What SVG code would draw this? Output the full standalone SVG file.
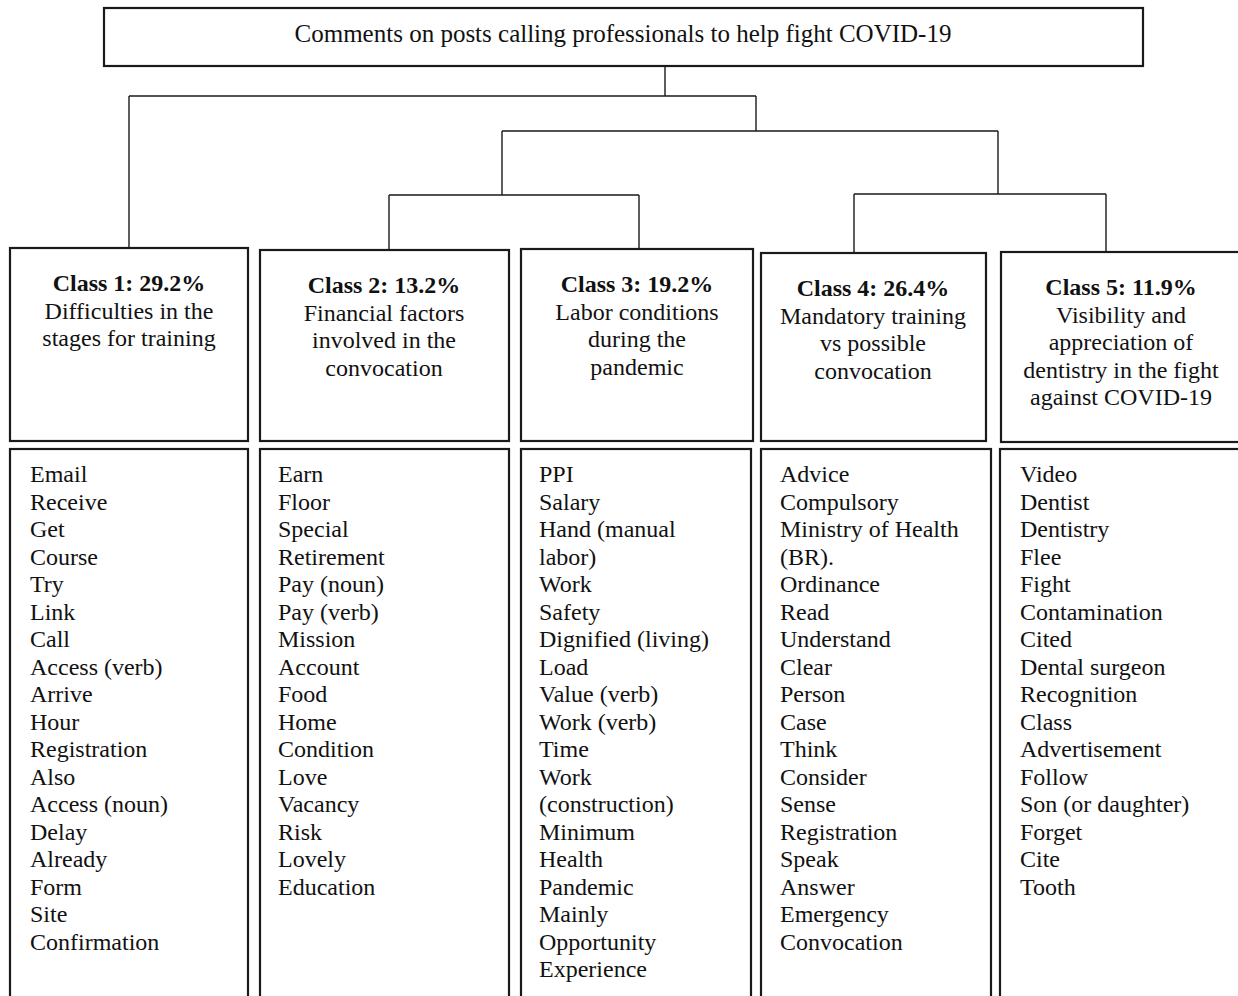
<svg xmlns="http://www.w3.org/2000/svg" width="1238" height="996" viewBox="0 0 1238 996">
<style>
.box{fill:#fff;stroke:#1a1a1a;stroke-width:2.2}
.ln{fill:none;stroke:#1a1a1a;stroke-width:1.4}
text{font-family:"Liberation Serif","Times New Roman",serif;font-size:24px;fill:#111}
.t{font-size:25px}
.c{text-anchor:middle}
.b{font-weight:bold}
</style>
<rect width="1238" height="996" fill="#fff"/>
<g id="connectors">
<path class="ln" d="M665 66V96M129 96H756M129 96V248M756 96V131M502 131H998M502 131V195M389 195H639M389 195V249M639 195V249M998 131V194M854 194H1106M854 194V253M1106 194V252"/>
</g>
<g id="root">
<rect class="box" x="104" y="8" width="1039" height="58"/>
<text class="t c" x="623" y="42">Comments on posts calling professionals to help fight COVID-19</text>
</g>
<g id="class1">
<rect class="box" x="10" y="248" width="238" height="193"/>
<text class="c" x="129" y="291"><tspan class="b">Class 1: 29.2%</tspan><tspan x="129" dy="27.5">Difficulties in the</tspan><tspan x="129" dy="27.5">stages for training</tspan></text>
</g>
<g id="class2">
<rect class="box" x="260" y="250" width="249" height="191"/>
<text class="c" x="384" y="293"><tspan class="b">Class 2: 13.2%</tspan><tspan x="384" dy="27.5">Financial factors</tspan><tspan x="384" dy="27.5">involved in the</tspan><tspan x="384" dy="27.5">convocation</tspan></text>
</g>
<g id="class3">
<rect class="box" x="521" y="249" width="232" height="192"/>
<text class="c" x="637" y="292"><tspan class="b">Class 3: 19.2%</tspan><tspan x="637" dy="27.5">Labor conditions</tspan><tspan x="637" dy="27.5">during the</tspan><tspan x="637" dy="27.5">pandemic</tspan></text>
</g>
<g id="class4">
<rect class="box" x="761" y="253" width="225" height="188"/>
<text class="c" x="873" y="296"><tspan class="b">Class 4: 26.4%</tspan><tspan x="873" dy="27.5">Mandatory training</tspan><tspan x="873" dy="27.5">vs possible</tspan><tspan x="873" dy="27.5">convocation</tspan></text>
</g>
<g id="class5">
<rect class="box" x="1001" y="252" width="250" height="190"/>
<text class="c" x="1121" y="295"><tspan class="b">Class 5: 11.9%</tspan><tspan x="1121" dy="27.5">Visibility and</tspan><tspan x="1121" dy="27.5">appreciation of</tspan><tspan x="1121" dy="27.5">dentistry in the fight</tspan><tspan x="1121" dy="27.5">against COVID-19</tspan></text>
</g>
<g id="words1">
<rect class="box" x="10" y="449" width="238" height="560"/>
<text x="30" y="482"><tspan x="30">Email</tspan><tspan x="30" dy="27.5">Receive</tspan><tspan x="30" dy="27.5">Get</tspan><tspan x="30" dy="27.5">Course</tspan><tspan x="30" dy="27.5">Try</tspan><tspan x="30" dy="27.5">Link</tspan><tspan x="30" dy="27.5">Call</tspan><tspan x="30" dy="27.5">Access (verb)</tspan><tspan x="30" dy="27.5">Arrive</tspan><tspan x="30" dy="27.5">Hour</tspan><tspan x="30" dy="27.5">Registration</tspan><tspan x="30" dy="27.5">Also</tspan><tspan x="30" dy="27.5">Access (noun)</tspan><tspan x="30" dy="27.5">Delay</tspan><tspan x="30" dy="27.5">Already</tspan><tspan x="30" dy="27.5">Form</tspan><tspan x="30" dy="27.5">Site</tspan><tspan x="30" dy="27.5">Confirmation</tspan></text>
</g>
<g id="words2">
<rect class="box" x="260" y="449" width="249" height="560"/>
<text x="278" y="482"><tspan x="278">Earn</tspan><tspan x="278" dy="27.5">Floor</tspan><tspan x="278" dy="27.5">Special</tspan><tspan x="278" dy="27.5">Retirement</tspan><tspan x="278" dy="27.5">Pay (noun)</tspan><tspan x="278" dy="27.5">Pay (verb)</tspan><tspan x="278" dy="27.5">Mission</tspan><tspan x="278" dy="27.5">Account</tspan><tspan x="278" dy="27.5">Food</tspan><tspan x="278" dy="27.5">Home</tspan><tspan x="278" dy="27.5">Condition</tspan><tspan x="278" dy="27.5">Love</tspan><tspan x="278" dy="27.5">Vacancy</tspan><tspan x="278" dy="27.5">Risk</tspan><tspan x="278" dy="27.5">Lovely</tspan><tspan x="278" dy="27.5">Education</tspan></text>
</g>
<g id="words3">
<rect class="box" x="521" y="449" width="230" height="560"/>
<text x="539" y="482"><tspan x="539">PPI</tspan><tspan x="539" dy="27.5">Salary</tspan><tspan x="539" dy="27.5">Hand (manual</tspan><tspan x="539" dy="27.5">labor)</tspan><tspan x="539" dy="27.5">Work</tspan><tspan x="539" dy="27.5">Safety</tspan><tspan x="539" dy="27.5">Dignified (living)</tspan><tspan x="539" dy="27.5">Load</tspan><tspan x="539" dy="27.5">Value (verb)</tspan><tspan x="539" dy="27.5">Work (verb)</tspan><tspan x="539" dy="27.5">Time</tspan><tspan x="539" dy="27.5">Work</tspan><tspan x="539" dy="27.5">(construction)</tspan><tspan x="539" dy="27.5">Minimum</tspan><tspan x="539" dy="27.5">Health</tspan><tspan x="539" dy="27.5">Pandemic</tspan><tspan x="539" dy="27.5">Mainly</tspan><tspan x="539" dy="27.5">Opportunity</tspan><tspan x="539" dy="27.5">Experience</tspan></text>
</g>
<g id="words4">
<rect class="box" x="761" y="449" width="230" height="560"/>
<text x="780" y="482"><tspan x="780">Advice</tspan><tspan x="780" dy="27.5">Compulsory</tspan><tspan x="780" dy="27.5">Ministry of Health</tspan><tspan x="780" dy="27.5">(BR).</tspan><tspan x="780" dy="27.5">Ordinance</tspan><tspan x="780" dy="27.5">Read</tspan><tspan x="780" dy="27.5">Understand</tspan><tspan x="780" dy="27.5">Clear</tspan><tspan x="780" dy="27.5">Person</tspan><tspan x="780" dy="27.5">Case</tspan><tspan x="780" dy="27.5">Think</tspan><tspan x="780" dy="27.5">Consider</tspan><tspan x="780" dy="27.5">Sense</tspan><tspan x="780" dy="27.5">Registration</tspan><tspan x="780" dy="27.5">Speak</tspan><tspan x="780" dy="27.5">Answer</tspan><tspan x="780" dy="27.5">Emergency</tspan><tspan x="780" dy="27.5">Convocation</tspan></text>
</g>
<g id="words5">
<rect class="box" x="1000" y="449" width="260" height="560"/>
<text x="1020" y="482"><tspan x="1020">Video</tspan><tspan x="1020" dy="27.5">Dentist</tspan><tspan x="1020" dy="27.5">Dentistry</tspan><tspan x="1020" dy="27.5">Flee</tspan><tspan x="1020" dy="27.5">Fight</tspan><tspan x="1020" dy="27.5">Contamination</tspan><tspan x="1020" dy="27.5">Cited</tspan><tspan x="1020" dy="27.5">Dental surgeon</tspan><tspan x="1020" dy="27.5">Recognition</tspan><tspan x="1020" dy="27.5">Class</tspan><tspan x="1020" dy="27.5">Advertisement</tspan><tspan x="1020" dy="27.5">Follow</tspan><tspan x="1020" dy="27.5">Son (or daughter)</tspan><tspan x="1020" dy="27.5">Forget</tspan><tspan x="1020" dy="27.5">Cite</tspan><tspan x="1020" dy="27.5">Tooth</tspan></text>
</g>
</svg>
